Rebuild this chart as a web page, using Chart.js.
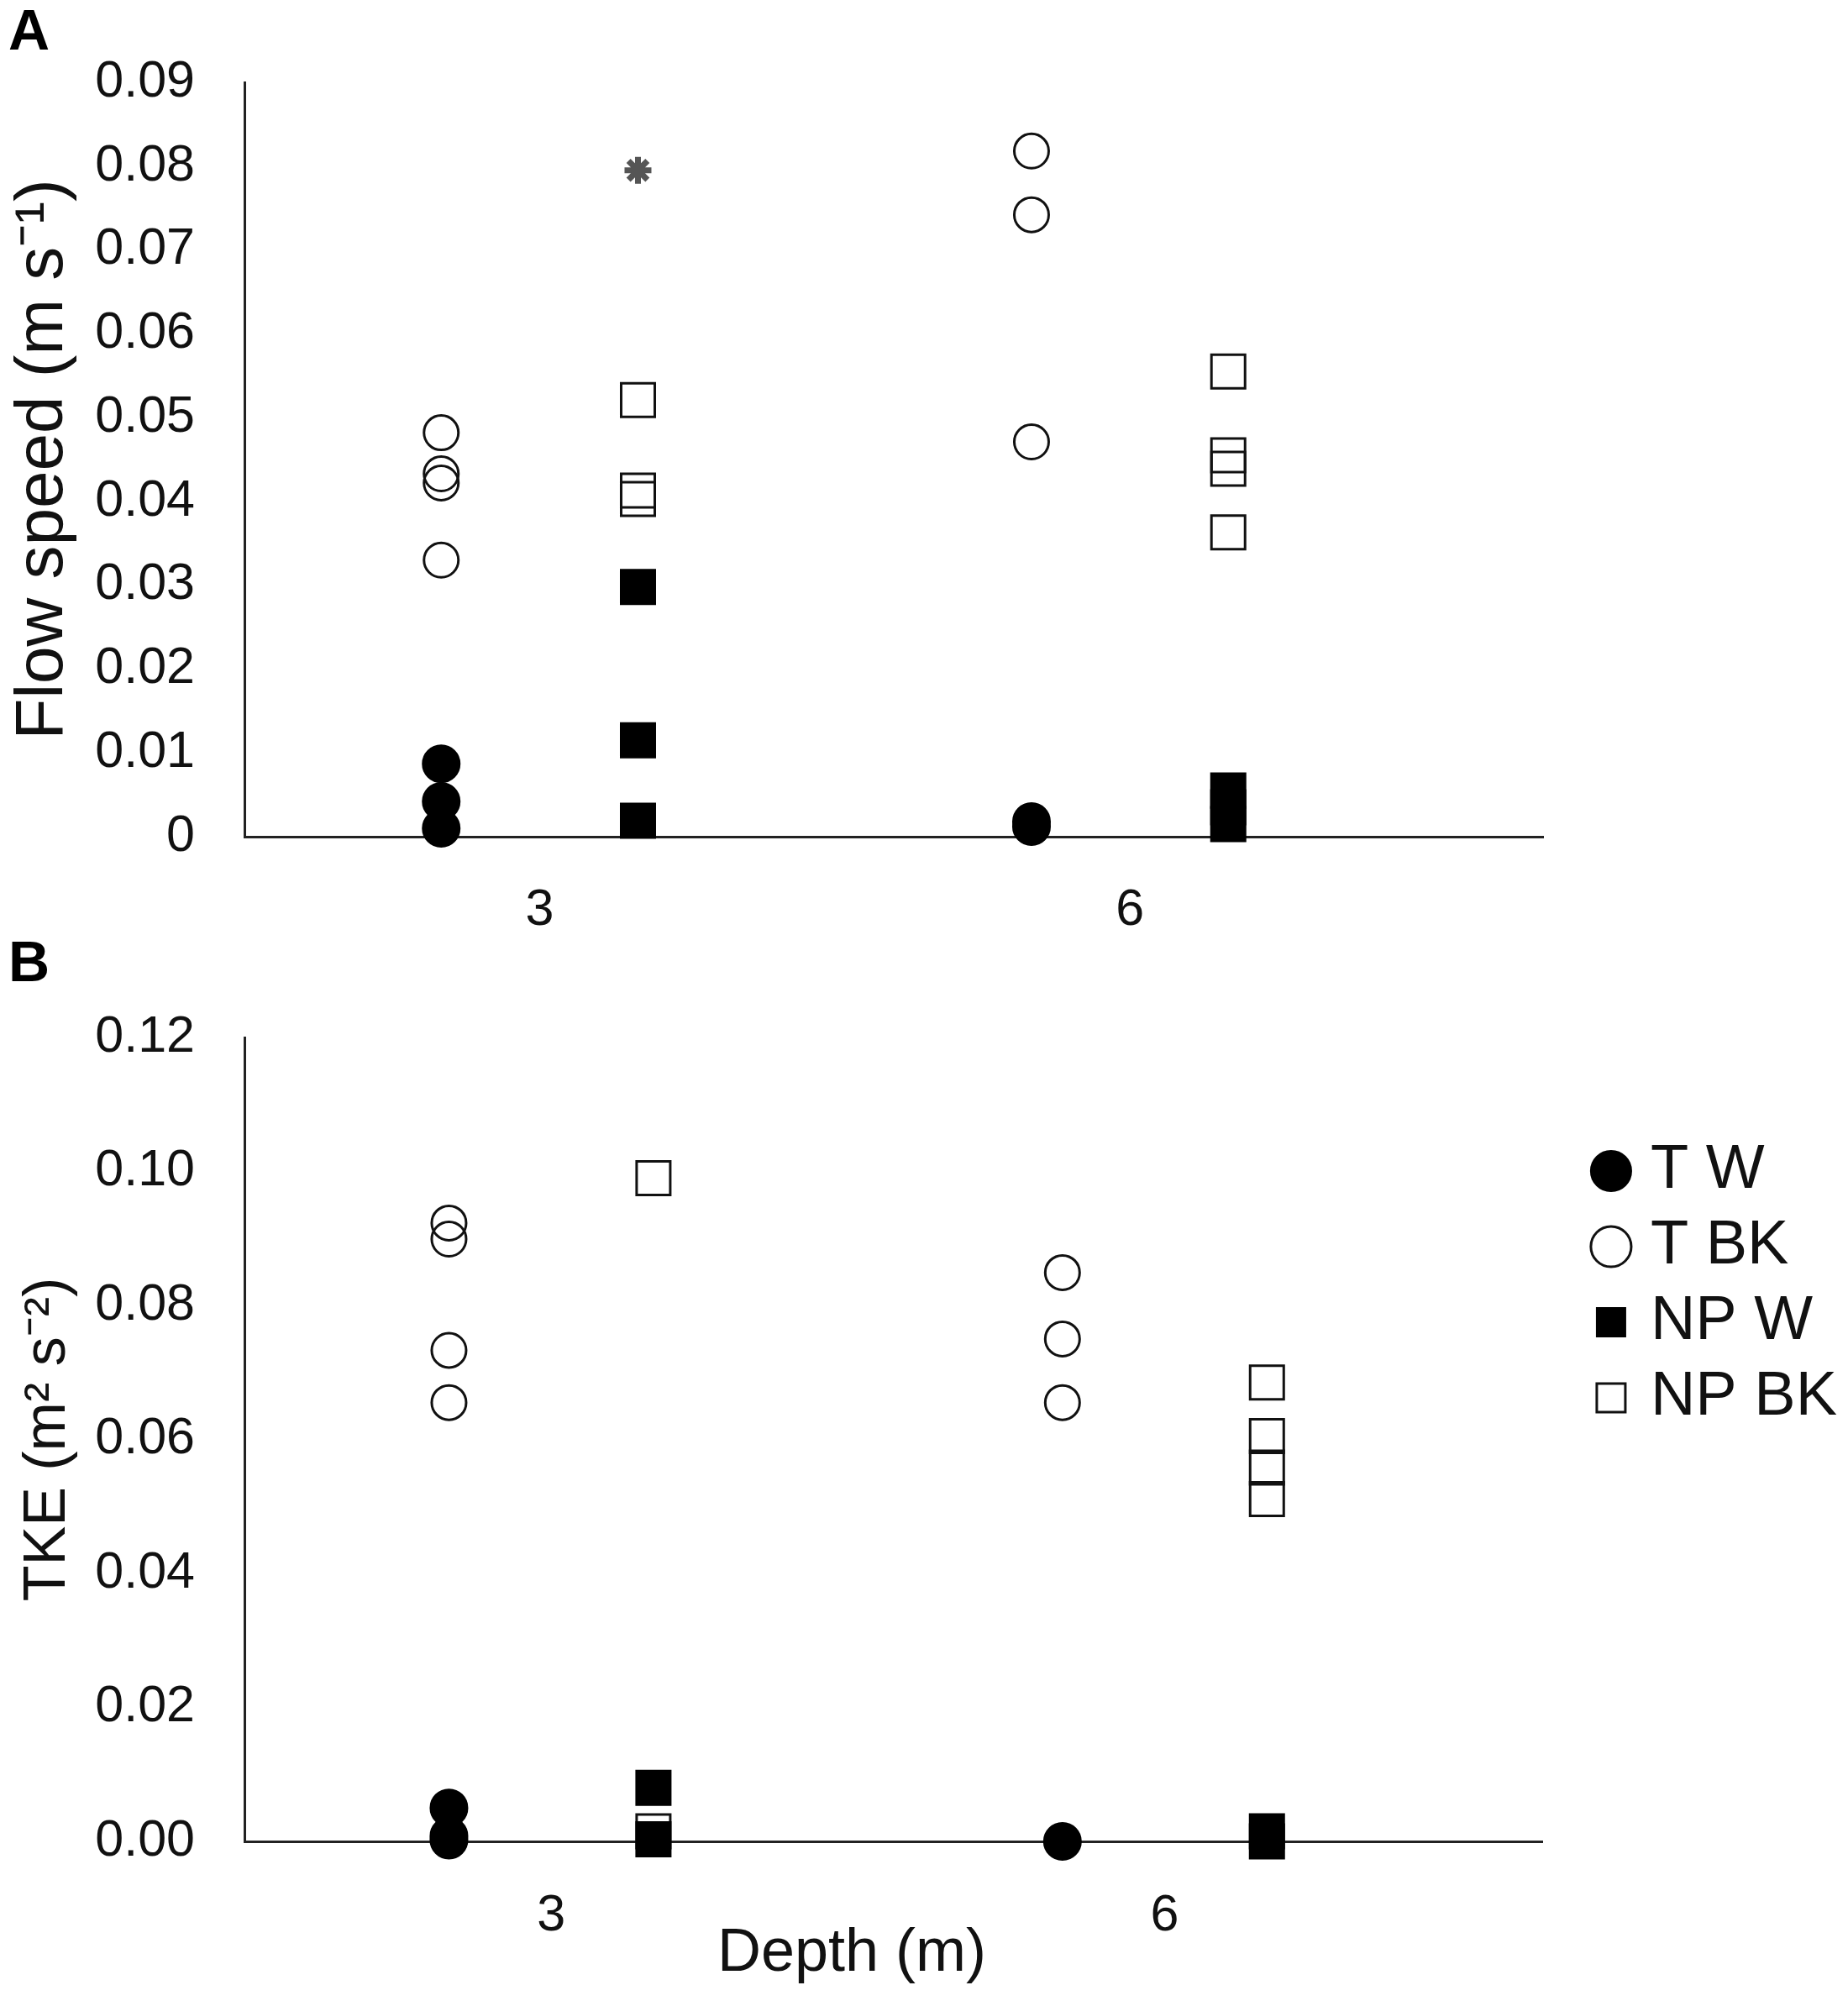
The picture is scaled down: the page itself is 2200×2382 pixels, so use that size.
<!DOCTYPE html>
<html>
<head>
<meta charset="utf-8">
<title>Flow speed and TKE by depth</title>
<script src="https://cdn.jsdelivr.net/npm/chart.js@4.4.1/dist/chart.umd.min.js"></script>
<style>
  html, body { margin: 0; padding: 0; background: #fff; }
  body { width: 2200px; height: 2382px; position: relative; overflow: hidden; }
  canvas { position: absolute; left: 0; }
  #panelA { top: 0; }
  #panelB { top: 1100px; }
</style>
</head>
<body>
<canvas id="panelA" width="2200" height="1130" style="width:2200px;height:1130px"></canvas>
<canvas id="panelB" width="2200" height="1282" style="width:2200px;height:1282px"></canvas>
<script>
const depths = [3, 6];
const depthLabels = ['3', '6'];
const seriesNames = ['T W', 'T BK', 'NP W', 'NP BK'];

// Panel A: flow speed (m s-1), one list per depth
const flowTW = [[0.0087, 0.0042, 0.0010], [0.0012, 0.0018]];
const flowTBK = [[0.0482, 0.0433, 0.0422, 0.0330], [0.0818, 0.0742, 0.0471]];
const flowNPW = [[0.0298, 0.0115, 0.0019], [0.0055, 0.0035, 0.0015]];
const flowNPBK = [[0.0521, 0.0413, 0.0403], [0.0555, 0.0455, 0.0439, 0.0363]];
const flowOutlier = [[0.0795], []];
const flowTicks = [0, 0.01, 0.02, 0.03, 0.04, 0.05, 0.06, 0.07, 0.08, 0.09];
const flowTickLabels = ['0', '0.01', '0.02', '0.03', '0.04', '0.05', '0.06', '0.07', '0.08', '0.09'];

// Panel B: TKE (m2 s-2)
const tkeTW = [[0.0050, 0.0008, 0.0002], [0.0000]];
const tkeTBK = [[0.0923, 0.0899, 0.0733, 0.0655], [0.0849, 0.0750, 0.0655]];
const tkeNPW = [[0.0080, 0.0003], [0.0015, 0.0000]];
const tkeNPBK = [[0.0990, 0.0015], [0.0685, 0.0605, 0.0558, 0.0511]];
const tkeTicks = [0, 0.02, 0.04, 0.06, 0.08, 0.10, 0.12];
const tkeTickLabels = ['0.00', '0.02', '0.04', '0.06', '0.08', '0.10', '0.12'];

// T sites sit left of the depth tick, NP sites right of it
const offsetT = -0.5;
const offsetNP = 0.5;

const textColor = '#111';
const axisColor = '#222';
Chart.defaults.font.family = '"Liberation Sans", Arial, sans-serif';

const markerStyles = [
  { pointStyle: 'circle', pointRadius: 22, backgroundColor: '#000', borderColor: '#000', borderWidth: 2 },
  { pointStyle: 'circle', pointRadius: 20.5, backgroundColor: 'rgba(0,0,0,0)', borderColor: '#111', borderWidth: 3 },
  { pointStyle: 'rect', pointRadius: 29, backgroundColor: '#000', borderColor: '#000', borderWidth: 2 },
  { pointStyle: 'rect', pointRadius: 28.3, backgroundColor: 'rgba(0,0,0,0)', borderColor: '#111', borderWidth: 3 }
];

function toPoints(lists, offset) {
  return depths.flatMap((d, i) => lists[i].map(v => ({ x: d + offset, y: v })));
}

function makeDataset(label, lists, offset, style) {
  return {
    label: label,
    data: toPoints(lists, offset),
    pointStyle: style.pointStyle,
    pointRadius: style.pointRadius,
    pointHoverRadius: style.pointRadius,
    backgroundColor: style.backgroundColor,
    pointBackgroundColor: style.backgroundColor,
    borderColor: style.borderColor,
    pointBorderColor: style.borderColor,
    borderWidth: style.borderWidth,
    pointBorderWidth: style.borderWidth,
    showLine: false,
    clip: false
  };
}

function buildDatasets(tw, tbk, npw, npbk) {
  return [
    makeDataset(seriesNames[0], tw, offsetT, markerStyles[0]),
    makeDataset(seriesNames[1], tbk, offsetT, markerStyles[1]),
    makeDataset(seriesNames[2], npw, offsetNP, markerStyles[2]),
    makeDataset(seriesNames[3], npbk, offsetNP, markerStyles[3])
  ];
}

function xScale(max, height, pad, title) {
  return {
    type: 'linear',
    min: 1.5,
    max: max,
    afterBuildTicks: s => { s.ticks = depths.map(v => ({ value: v })); },
    afterFit: s => { s.height = height; },
    border: { display: true, color: axisColor, width: 3 },
    grid: { display: false, drawTicks: false },
    ticks: { padding: pad, color: textColor, font: { size: 61 }, callback: (v, i) => depthLabels[i] },
    title: title
  };
}

function yScale(max, ticks, labels, titleText, titleSize, titleTop) {
  return {
    min: 0,
    max: max,
    afterBuildTicks: s => { s.ticks = ticks.map(v => ({ value: v })); },
    afterFit: s => { s.width = 281; },
    border: { display: true, color: axisColor, width: 3 },
    grid: { display: false, drawTicks: false },
    ticks: { padding: 59, color: textColor, font: { size: 61 }, callback: (v, i) => labels[i] },
    title: {
      display: true, text: titleText, color: textColor,
      font: { size: titleSize, lineHeight: 1 },
      padding: { top: titleTop, bottom: 0 }
    }
  };
}

// Panel A
const dataA = buildDatasets(flowTW, flowTBK, flowNPW, flowNPBK);
dataA.push({
  label: 'outlier',
  data: toPoints(flowOutlier, offsetNP),
  pointStyle: 'star',
  pointRadius: 16,
  backgroundColor: '#000',
  borderColor: '#555',
  pointBorderColor: '#555',
  borderWidth: 7,
  pointBorderWidth: 7,
  showLine: false,
  clip: false
});

new Chart(document.getElementById('panelA'), {
  type: 'scatter',
  data: { datasets: dataA },
  options: {
    responsive: false,
    devicePixelRatio: 1,
    animation: false,
    events: [],
    layout: { padding: { left: 10, right: 363, top: 0, bottom: 0 } },
    scales: {
      x: xScale(8.1, 134, 52, { display: false }),
      y: yScale(0.09, flowTicks, flowTickLabels, 'Flow speed (m s\u207B\u00B9)', 80, 2)
    },
    plugins: {
      legend: { display: false },
      tooltip: { enabled: false },
      title: {
        display: true, text: 'A', align: 'start', color: '#000',
        font: { size: 68, weight: 'bold', lineHeight: 1 },
        padding: { top: 6, bottom: 24 }
      }
    }
  }
});

// Panel B
new Chart(document.getElementById('panelB'), {
  type: 'scatter',
  data: { datasets: buildDatasets(tkeTW, tkeTBK, tkeNPW, tkeNPBK) },
  options: {
    responsive: false,
    devicePixelRatio: 1,
    animation: false,
    events: [],
    layout: { padding: { left: 10, right: 3, top: 0, bottom: 0 } },
    scales: {
      x: xScale(7.85, 190, 53, {
        display: true, text: 'Depth (m)     ', color: textColor,
        font: { size: 72, lineHeight: 1 }, padding: { top: 0, bottom: 20 }
      }),
      y: yScale(0.12, tkeTicks, tkeTickLabels, 'TKE (m\u00B2 s\u207B\u00B2)', 70, 13),
      // empty strip between plot and legend
      gap: {
        position: 'right',
        grid: { display: false, drawTicks: false },
        border: { display: false },
        ticks: { display: false },
        afterFit: s => { s.width = 55; }
      }
    },
    plugins: {
      tooltip: { enabled: false },
      title: {
        display: true, text: 'B', align: 'start', color: '#000',
        font: { size: 68, weight: 'bold', lineHeight: 1 },
        padding: { top: 15, bottom: 52 }
      },
      legend: {
        display: true,
        position: 'right',
        align: 'start',
        fullSize: true,
        title: { display: true, text: ' ', font: { size: 10, lineHeight: 1 }, padding: { top: 231, bottom: 0 } },
        labels: {
          usePointStyle: true,
          boxWidth: 20,
          boxHeight: 34,
          padding: 16,
          color: textColor,
          font: { size: 74 }
        }
      }
    }
  }
});
</script>
</body>
</html>
